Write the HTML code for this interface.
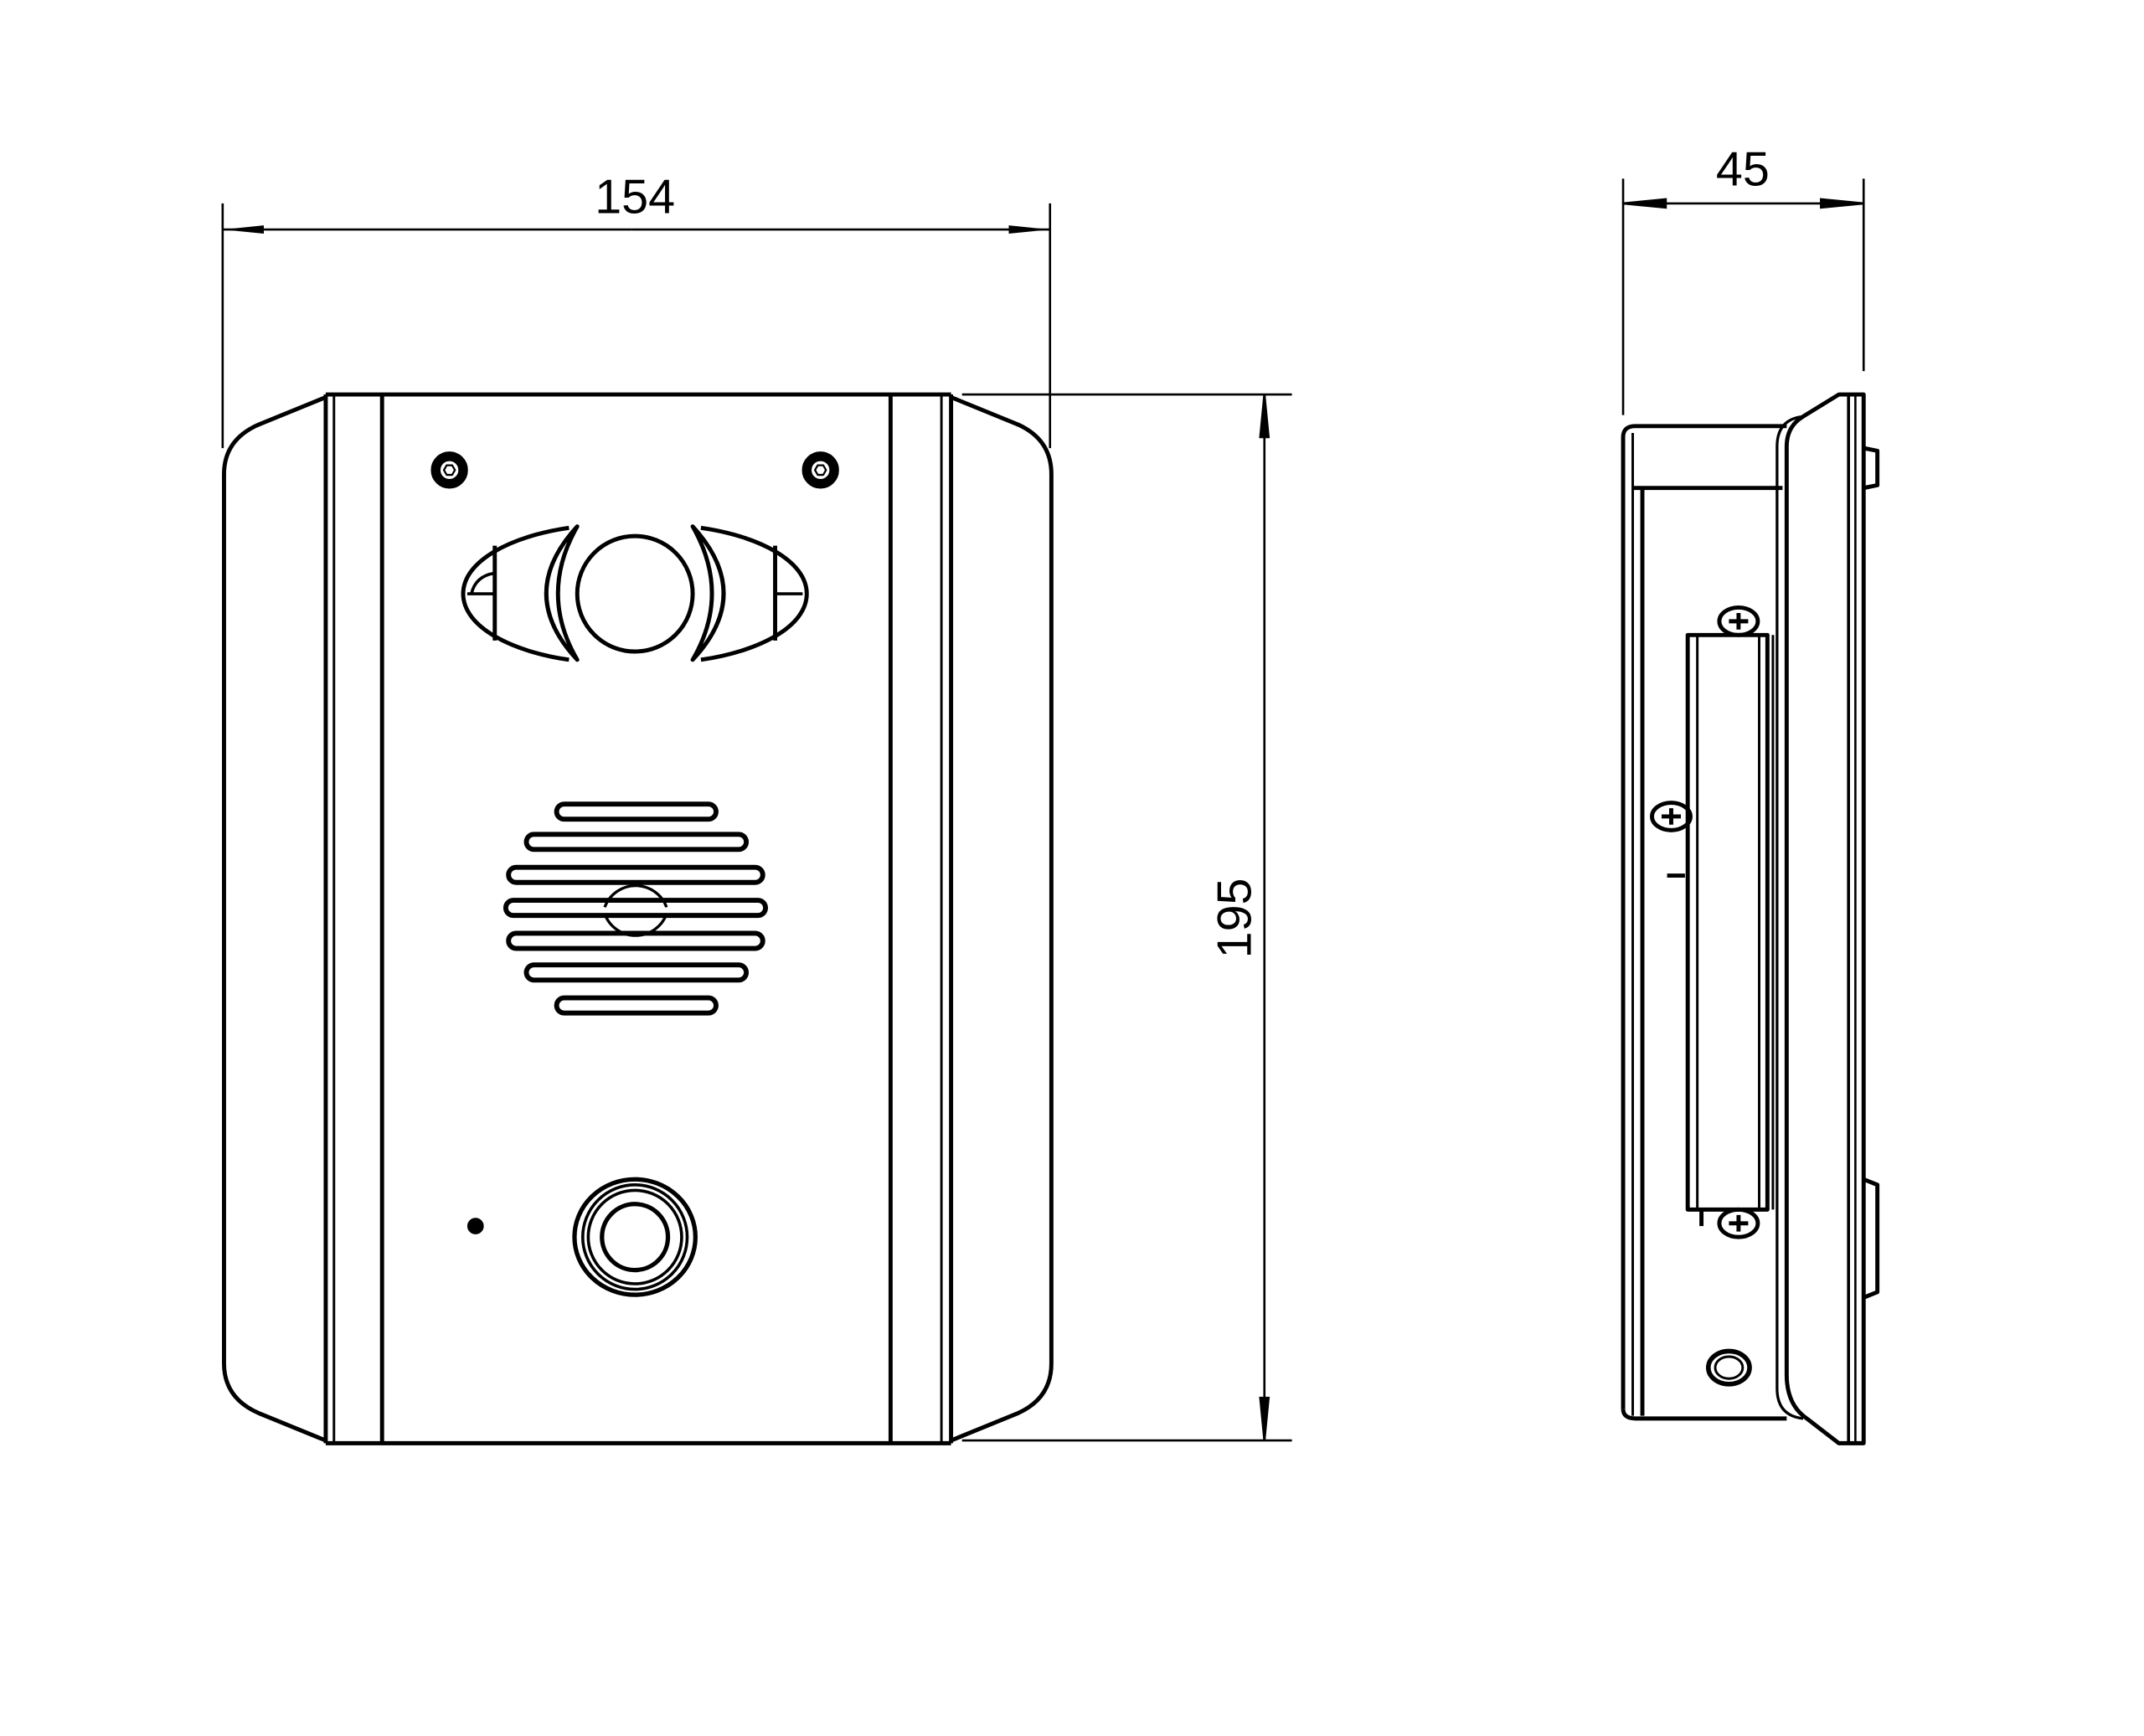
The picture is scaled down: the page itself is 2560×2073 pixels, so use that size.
<!DOCTYPE html>
<html><head><meta charset="utf-8"><style>
html,body{margin:0;padding:0;background:#fff;}
svg{display:block;}
text{font-family:"Liberation Sans",sans-serif;fill:#000;}
</style></head><body>
<svg width="2560" height="2073" viewBox="0 0 1560 1263" preserveAspectRatio="none" xmlns="http://www.w3.org/2000/svg">
<defs>
<marker id="a" viewBox="0 0 30 8" refX="30" refY="4" markerWidth="30" markerHeight="8" markerUnits="userSpaceOnUse" orient="auto"><path d="M0,1 L30,4 L0,7 Z" fill="#000"/></marker>
</defs>
<g fill="none" stroke="#000" stroke-width="1.6">
<line x1="162" y1="148" x2="162" y2="326"/>
<line x1="764" y1="148" x2="764" y2="326"/>
<line x1="192" y1="167" x2="162" y2="167" marker-end="url(#a)"/>
<line x1="460" y1="167" x2="764" y2="167" marker-end="url(#a)"/>
<line x1="192" y1="167" x2="460" y2="167"/>
<line x1="700" y1="287" x2="940" y2="287"/>
<line x1="700" y1="1048" x2="940" y2="1048"/>
<line x1="920" y1="287" x2="920" y2="1048"/>
<path d="M920,287 L917,318 L923,318 Z" fill="#000"/>
<path d="M920,1048 L917,1017 L923,1017 Z" fill="#000"/>
<line x1="1181" y1="130" x2="1181" y2="302"/>
<line x1="1356" y1="130" x2="1356" y2="270"/>
<line x1="1181" y1="148" x2="1356" y2="148"/>
<path d="M1181,148 L1212,145 L1212,151 Z" fill="#000"/>
<path d="M1356,148 L1325,145 L1325,151 Z" fill="#000"/>
</g>
<text x="462" y="155" font-size="35" text-anchor="middle">154</text>
<text x="1268" y="135" font-size="35" text-anchor="middle">45</text>
<text transform="translate(910,668) rotate(-90)" font-size="35" text-anchor="middle">195</text>

<g fill="none" stroke="#000" stroke-width="3" stroke-linejoin="round">
<path d="M237,287 L692,287 M237,1050 L692,1050"/>
<path d="M237,289 L188,309 Q163,320 163,345 L163,992 Q163,1017 188,1028 L237,1048"/>
<path d="M692,289 L741,309 Q765,320 765,345 L765,992 Q765,1017 741,1028 L692,1048"/>
<line x1="237" y1="287" x2="237" y2="1050"/>
<line x1="243" y1="287" x2="243" y2="1050" stroke-width="1.8"/>
<line x1="278" y1="287" x2="278" y2="1050"/>
<line x1="648" y1="287" x2="648" y2="1050"/>
<line x1="685" y1="287" x2="685" y2="1050" stroke-width="1.8"/>
<line x1="692" y1="287" x2="692" y2="1050"/>
<circle cx="327" cy="342" r="10" stroke-width="7"/>
<circle cx="597" cy="342" r="10" stroke-width="7"/>
<path d="M323,342 l2,-3.5 h4 l2,3.5 l-2,3.5 h-4 Z" stroke-width="1.4"/>
<path d="M593,342 l2,-3.5 h4 l2,3.5 l-2,3.5 h-4 Z" stroke-width="1.4"/>
<circle cx="462" cy="432" r="42"/>
<path d="M420,383 Q375,432 420,480 Q392,432 420,383 Z"/>
<path d="M504,383 Q549,432 504,480 Q532,432 504,383 Z"/>
<path d="M414,384 C372,390 337,408 337,432 C337,456 372,474 414,480"/>
<path d="M510,384 C552,390 587,408 587,432 C587,456 552,474 510,480"/>
<line x1="360" y1="397" x2="360" y2="466"/>
<line x1="564" y1="397" x2="564" y2="466"/>
<path d="M360,417 Q346,419 343,432 L360,432 M340,432 L360,432" stroke-width="2.2"/>
<path d="M564,417 L564,432 L584,432" stroke-width="2.2"/>
<g stroke-width="3.6">
<rect x="405" y="585" width="116" height="11" rx="5.5"/>
<rect x="383" y="607" width="160" height="11" rx="5.5"/>
<rect x="370" y="631" width="185" height="11" rx="5.5"/>
<rect x="368" y="655" width="189" height="11" rx="5.5"/>
<rect x="370" y="679" width="185" height="11" rx="5.5"/>
<rect x="383" y="702" width="160" height="11" rx="5.5"/>
<rect x="405" y="726" width="116" height="11" rx="5.5"/>
</g>
<path d="M440,660 A24,24 0 0 1 485,660 M440,665 A24,24 0 0 0 485,665" stroke-width="2"/>
<circle cx="346" cy="892" r="4.5" fill="#000"/>
<ellipse cx="462" cy="900" rx="44" ry="42" stroke-width="3.2"/>
<circle cx="462" cy="900" r="38" stroke-width="2.2"/>
<circle cx="462" cy="900" r="34" stroke-width="2.2"/>
<circle cx="462" cy="900" r="24" stroke-width="3.2"/>

<path d="M1181,318 Q1181,310 1190,310 L1300,310"/>
<line x1="1181" y1="318" x2="1181" y2="1025"/>
<line x1="1188" y1="315" x2="1188" y2="1030" stroke-width="1.8"/>
<line x1="1195" y1="355" x2="1195" y2="1030"/>
<line x1="1188" y1="355" x2="1297" y2="355"/>
<path d="M1181,1025 Q1181,1032 1190,1032 L1300,1032"/>
<path d="M1356,287 L1338,287 L1312,303 Q1300,310 1300,325 L1300,1000 Q1300,1020 1312,1030 L1338,1050 L1356,1050 Z"/>
<path d="M1312,303 Q1293,305 1293,325 L1293,1010 Q1293,1030 1312,1032" stroke-width="2"/>
<line x1="1345" y1="287" x2="1345" y2="1050" stroke-width="2.2"/>
<line x1="1350" y1="287" x2="1350" y2="1050" stroke-width="1.6"/>
<path d="M1356,326 L1366,328 L1366,353 L1356,355"/>
<path d="M1356,858 L1366,862 L1366,940 L1356,944"/>
<rect x="1228" y="462" width="58" height="418"/>
<line x1="1235" y1="462" x2="1235" y2="880" stroke-width="1.8"/>
<line x1="1280" y1="462" x2="1280" y2="880" stroke-width="1.8"/>
<line x1="1290" y1="462" x2="1290" y2="880" stroke-width="1.8"/>
<ellipse cx="1265" cy="452" rx="14" ry="10"/>
<path d="M1258,452 h14 M1265,446 v12"/>
<ellipse cx="1216" cy="594" rx="14" ry="10"/>
<path d="M1209,594 h14 M1216,588 v12"/>
<ellipse cx="1265" cy="890" rx="14" ry="10"/>
<path d="M1258,890 h14 M1265,884 v12"/>
<ellipse cx="1258" cy="995" rx="15" ry="12" stroke-width="3.4"/>
<ellipse cx="1258" cy="995" rx="10" ry="8" stroke-width="1.8"/>
<line x1="1213" y1="637" x2="1226" y2="637"/>
<line x1="1238" y1="880" x2="1238" y2="892"/>
</g>
</svg>
</body></html>
